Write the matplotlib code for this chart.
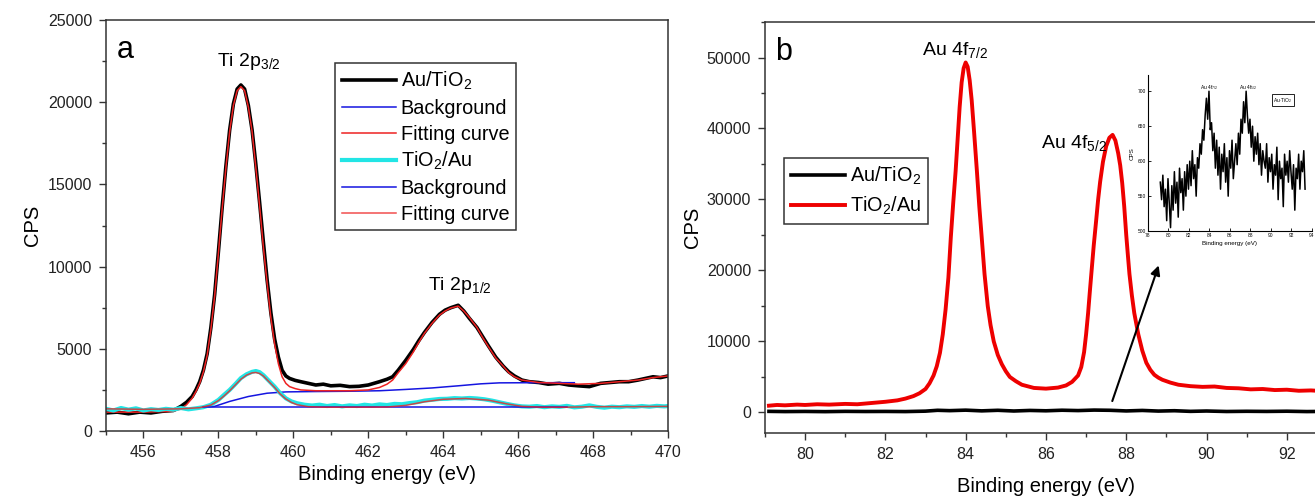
import numpy as np
import matplotlib
matplotlib.use('Agg')
import matplotlib.pyplot as plt
from matplotlib.ticker import MultipleLocator

plt.rcParams['font.family'] = ['Liberation Sans', 'DejaVu Sans']
plt.rcParams['mathtext.fontset'] = 'custom'
plt.rcParams['mathtext.rm'] = 'Liberation Sans'
plt.rcParams['mathtext.it'] = 'Liberation Sans'

# ---- panel a: Ti 2p ----
a_au_x = [455.0, 455.3, 455.6, 455.9, 456.2, 456.5, 456.8, 457.0, 457.15, 457.3, 457.4, 457.5,
          457.6, 457.7, 457.8, 457.9, 458.0, 458.1, 458.2, 458.3, 458.4, 458.5, 458.6, 458.7,
          458.8, 458.9, 459.0, 459.1, 459.2, 459.3, 459.4, 459.5, 459.6, 459.7, 459.8, 459.9,
          460.05, 460.2, 460.4, 460.6, 460.8, 461.0, 461.25, 461.5, 461.75, 462.0, 462.3, 462.5,
          462.65, 462.8, 463.0, 463.2, 463.35, 463.5, 463.7, 463.9, 464.05, 464.2, 464.4, 464.55,
          464.7, 464.9, 465.05, 465.2, 465.4, 465.6, 465.75, 465.9, 466.1, 466.3, 466.55, 466.8,
          467.1, 467.35, 467.6, 467.9, 468.2, 468.45, 468.7, 468.95, 469.2, 469.4, 469.6, 469.8,
          470.0]
a_au_y = [1100, 1150, 1050, 1150, 1100, 1200, 1250, 1500, 1750, 2100, 2500, 3000,
          3700, 4700, 6300, 8300, 10900, 13600, 16100, 18300, 19900, 20800, 21050, 20800,
          19800, 18300, 16200, 13900, 11500, 9200, 7200, 5600, 4500, 3700, 3350, 3200,
          3080, 3000, 2900, 2800, 2850, 2750, 2780, 2700, 2720, 2800, 3000, 3150,
          3300, 3700, 4300, 4950, 5500, 6000, 6600, 7100, 7350, 7500, 7650, 7300,
          6850, 6300, 5750, 5200, 4500, 3950, 3600, 3350, 3100, 3000, 2950, 2850,
          2900, 2800, 2750, 2700, 2900, 2950, 3000, 3000, 3100, 3200, 3300, 3250,
          3350]

a_au_fit_x = [455.0, 456.0, 456.8, 457.0, 457.15, 457.3, 457.4, 457.5, 457.6, 457.7, 457.8,
              457.9, 458.0, 458.1, 458.2, 458.3, 458.4, 458.5, 458.6, 458.7, 458.8, 458.9,
              459.0, 459.1, 459.2, 459.3, 459.4, 459.5, 459.6, 459.7, 459.8, 459.9, 460.05,
              460.2, 460.6, 461.5, 462.0, 462.3, 462.5, 462.65, 462.8, 463.0, 463.2, 463.35,
              463.5, 463.7, 463.9, 464.05, 464.2, 464.4, 464.55, 464.7, 464.9, 465.05, 465.2,
              465.4, 465.6, 465.75, 465.9, 466.1, 466.55, 467.1, 467.6, 468.2, 468.7, 469.2,
              469.6, 470.0]
a_au_fit_y = [1150, 1150, 1200, 1350, 1600, 2000, 2400, 2900, 3600, 4600, 6200,
              8200, 10800, 13500, 16000, 18200, 19800, 20700, 20950, 20700, 19700, 18200,
              16000, 13700, 11200, 9000, 6900, 5300, 4100, 3300, 2900, 2700, 2580,
              2500, 2450, 2450, 2500, 2650, 2850, 3100, 3550, 4100, 4800, 5400,
              5950, 6550, 7050, 7300, 7480, 7600, 7300, 6900, 6300, 5700, 5150,
              4450, 3950, 3550, 3300, 3100, 2950, 2900, 2850, 2900, 3000, 3100,
              3250, 3350]

a_au_bg_x = [457.6, 457.9, 458.3, 458.8, 459.3, 459.8, 460.5, 461.5, 462.3, 463.0, 463.7, 464.4,
             465.0, 465.5, 466.5, 467.5]
a_au_bg_y = [1440, 1500, 1800, 2100, 2300, 2380, 2400, 2420, 2450, 2530, 2620, 2750,
             2870, 2930, 2940, 2940]

a_ti_x = [455.0, 455.2, 455.4, 455.6, 455.8, 456.0, 456.2, 456.4, 456.6, 456.8, 457.0, 457.2,
          457.4, 457.6, 457.8, 458.0, 458.15, 458.3, 458.45, 458.6, 458.75, 458.9, 459.0, 459.1,
          459.2, 459.35, 459.5, 459.65, 459.8, 459.95, 460.1, 460.3, 460.5, 460.7, 460.9, 461.1,
          461.3, 461.5, 461.7, 461.9, 462.1, 462.3, 462.5, 462.7, 462.9, 463.1, 463.3, 463.5,
          463.7, 463.9, 464.1, 464.3, 464.5, 464.7, 464.9, 465.1, 465.3, 465.5, 465.7, 465.9,
          466.1, 466.3, 466.5, 466.7, 466.9, 467.1, 467.3, 467.5, 467.7, 467.9, 468.1, 468.3,
          468.5, 468.7, 468.9, 469.1, 469.3, 469.5, 469.7, 469.9, 470.0]
a_ti_y = [1350, 1250, 1400, 1300, 1380, 1250, 1330, 1280, 1350, 1300, 1400, 1320,
          1380, 1450, 1600, 1890, 2200, 2500, 2850, 3220, 3450, 3600, 3650, 3580,
          3400, 3050, 2700, 2300, 1990, 1800, 1690, 1600, 1550, 1600, 1520, 1580,
          1500, 1560, 1520, 1600, 1550, 1620, 1580, 1650, 1630, 1700, 1750, 1850,
          1900, 1950, 1960, 2000, 1980, 2010, 1980, 1930, 1850, 1750, 1650, 1560,
          1500, 1480, 1520, 1450, 1500, 1470, 1530, 1440, 1480, 1560, 1470, 1420,
          1480, 1450, 1500, 1470, 1520, 1480, 1530, 1500, 1520]

a_ti_fit_x = [455.0, 456.0, 457.0, 457.5, 457.8, 458.0, 458.15, 458.3, 458.45, 458.6, 458.75,
              458.9, 459.0, 459.1, 459.2, 459.35, 459.5, 459.65, 459.8, 459.95, 460.1, 460.4,
              460.8, 461.5, 462.5, 463.0, 463.5, 464.0, 464.6, 465.2, 465.7, 466.1, 466.6,
              467.3, 468.0, 469.0, 470.0]
a_ti_fit_y = [1350, 1320, 1350, 1420, 1580, 1850, 2130, 2450, 2800, 3150, 3400,
              3540, 3560, 3500, 3350, 3000, 2650, 2250, 1950, 1740, 1600, 1480,
              1450, 1450, 1460, 1560, 1780, 1930, 1980, 1880, 1650, 1500, 1450,
              1450, 1480, 1480, 1500]

a_ti_bg_x = [457.6, 467.3]
a_ti_bg_y = [1440, 1440]

# ---- panel b: Au 4f ----
b_ti_x = [79.1, 79.3, 79.5, 79.8, 80.0, 80.3, 80.6, 81.0, 81.3, 81.6, 82.0, 82.3, 82.5, 82.7,
          82.85, 83.0, 83.1, 83.2, 83.28, 83.36, 83.43, 83.5, 83.57, 83.63, 83.69, 83.75, 83.8,
          83.85, 83.9, 83.95, 84.0, 84.05, 84.1, 84.15, 84.21, 84.28, 84.34, 84.4, 84.47, 84.55,
          84.62, 84.7, 84.8, 84.9, 85.0, 85.1, 85.25, 85.4, 85.7, 86.0, 86.3, 86.5, 86.65, 86.8,
          86.88, 86.95, 87.0, 87.05, 87.09, 87.13, 87.19, 87.25, 87.3, 87.35, 87.42, 87.5, 87.58,
          87.66, 87.73, 87.8, 87.85, 87.9, 87.95, 88.0, 88.04, 88.08, 88.14, 88.2, 88.25, 88.3,
          88.4, 88.5, 88.6, 88.7, 88.8, 88.9, 89.1, 89.3, 89.6, 89.9, 90.2, 90.5, 90.8, 91.1,
          91.4, 91.7, 92.0, 92.3, 92.6, 92.9, 93.0]
b_ti_y = [950, 1050, 1000, 1100, 1050, 1150, 1100, 1200, 1150, 1300, 1500, 1700, 1950, 2300,
          2700, 3300, 4100, 5200, 6500, 8400, 11000, 14500, 19000, 24650, 29500, 34000, 38500,
          43000, 46500, 48500, 49300, 48700, 46800, 44000, 39500, 34000, 29000, 24650, 19500, 15000,
          12300, 10000, 8100, 6800, 5800, 5000, 4400, 3900, 3450, 3350, 3500, 3800, 4300, 5200,
          6400, 8500, 11000, 14000, 16800, 19500, 23500, 27000, 30000, 32500, 35300, 37500, 38700,
          39100, 38300, 36500, 34800, 32300, 29000, 25000, 22200, 19500, 16500, 14000, 12500, 11000,
          8700, 7000, 6000, 5300, 4900, 4600, 4200, 3900, 3700, 3600, 3650, 3450, 3400, 3250,
          3300, 3150, 3200, 3050, 3100, 3000, 3000]

b_au_x = [79.1, 79.5, 80.0, 80.5, 81.0, 81.5, 82.0, 82.5, 83.0, 83.3, 83.6, 84.0, 84.4, 84.8,
          85.2, 85.6, 86.0, 86.4, 86.8, 87.2, 87.6, 88.0, 88.4, 88.8, 89.2, 89.6, 90.0, 90.5,
          91.0, 91.5, 92.0, 92.5, 93.0]
b_au_y = [150, 120, 140, 110, 150, 130, 140, 120, 180, 300, 250, 320, 220, 300,
          200, 280, 230, 310, 260, 330, 300, 210, 280, 190, 240, 150, 200, 130,
          160, 140, 170, 120, 150]

# inset (Au/TiO2 zoom), sampled every 0.125 eV from 79.2
inset_x = np.arange(114) * 0.125 + 79.2
inset_y = [570, 545, 580, 535, 560, 515, 575, 540, 505, 565, 530,
           585, 540, 570, 520, 590, 555, 575, 530, 585, 550, 595, 560,
           600, 565, 615, 575, 595, 550, 605,
           590, 625, 610, 645, 630, 665,
           690, 660, 700, 645,
           655, 615, 640, 590, 630, 580, 620,
           560, 610, 585, 625, 570, 605, 550, 615, 590, 630, 575, 600,
           625, 595, 640, 610, 660, 640,
           685, 655, 700, 665,
           640, 660, 620, 650, 600, 635,
           610, 640, 595, 625, 580, 615, 600, 590, 625, 570, 605, 585,
           610, 560, 595, 580, 620, 545, 600, 575, 590, 535, 610, 580,
           600, 570, 615, 585, 560, 595, 530, 590, 575, 610, 560, 600, 585, 615, 560]

fig = plt.figure(figsize=(13.15, 4.96), dpi=100)
ax1 = fig.add_axes([0.0806, 0.131, 0.4274, 0.8286])
ax2 = fig.add_axes([0.5817, 0.127, 0.4274, 0.8286])


def style(ax):
    for s in ax.spines.values():
        s.set_linewidth(1.1)
        s.set_color('#333333')
    ax.tick_params(which='major', direction='out', length=5, width=1, labelsize=11.5, pad=5,
                   colors='#333333', labelcolor='#222222', top=False, right=False)
    ax.tick_params(which='minor', direction='out', length=3, width=1, colors='#333333',
                   top=False, right=False)


# panel a
ax1.plot(a_au_x, a_au_y, color='black', lw=2.6, label='Au/TiO$_2$')
ax1.plot(a_au_bg_x, a_au_bg_y, color='#1515e0', lw=1.1, label='Background')
ax1.plot(a_au_fit_x, a_au_fit_y, color='#ee2222', lw=1.1, label='Fitting curve')
ax1.plot(a_ti_x, a_ti_y, color='#22e5e5', lw=3, label='TiO$_2$/Au')
ax1.plot(a_ti_bg_x, a_ti_bg_y, color='#1515e0', lw=1.1, label='Background')
ax1.plot(a_ti_fit_x, a_ti_fit_y, color='#ee2222', lw=1.1, alpha=0.8, label='Fitting curve')
ax1.set_xlim(455, 470)
ax1.set_ylim(0, 25000)
ax1.xaxis.set_major_locator(MultipleLocator(2))
ax1.xaxis.set_minor_locator(MultipleLocator(1))
ax1.yaxis.set_major_locator(MultipleLocator(5000))
ax1.yaxis.set_minor_locator(MultipleLocator(2500))
style(ax1)
ax1.set_xlabel('Binding energy (eV)', fontsize=14.5, labelpad=4)
ax1.set_ylabel('CPS', fontsize=14.5, labelpad=4)
ax1.text(0.02, 0.9075, 'a', transform=ax1.transAxes, fontsize=22, va='baseline')
ax1.text(457.96, 22200, 'Ti 2p$_{3/2}$', fontsize=14, va='baseline')
ax1.text(463.59, 8580, 'Ti 2p$_{1/2}$', fontsize=14, va='baseline')
leg1 = ax1.legend(loc='upper left', bbox_to_anchor=(0.4075, 0.895), borderaxespad=0,
                  fontsize=14.3, handlelength=2.7, handletextpad=0.25, labelspacing=0.33,
                  borderpad=0.35, fancybox=False, framealpha=1, edgecolor='#333333')
leg1.get_frame().set_linewidth(1.1)

# panel b
ax2.plot(b_au_x, b_au_y, color='black', lw=2.6, label='Au/TiO$_2$')
ax2.plot(b_ti_x, b_ti_y, color='#ee0000', lw=2.8, label='TiO$_2$/Au')
ax2.set_xlim(79, 93)
ax2.set_ylim(-2900, 55000)
ax2.xaxis.set_major_locator(MultipleLocator(2))
ax2.xaxis.set_minor_locator(MultipleLocator(1))
ax2.yaxis.set_major_locator(MultipleLocator(10000))
ax2.yaxis.set_minor_locator(MultipleLocator(5000))
style(ax2)
ax2.set_xlabel('Binding energy (eV)', fontsize=14.5, labelpad=11)
ax2.set_ylabel('CPS', fontsize=14.5, labelpad=3)
ax2.text(0.018, 0.9075, 'b', transform=ax2.transAxes, fontsize=22, va='baseline')
ax2.text(82.9, 50380, 'Au 4f$_{7/2}$', fontsize=14, va='baseline')
ax2.text(85.88, 37280, 'Au 4f$_{5/2}$', fontsize=14, va='baseline')
ax2.annotate('', xy=(88.83, 21080), xytext=(87.63, 1230),
             arrowprops=dict(arrowstyle='-|>', color='black', lw=1.5, mutation_scale=14))
leg2 = ax2.legend(loc='upper left', bbox_to_anchor=(0.034, 0.669), borderaxespad=0,
                  fontsize=14.3, handlelength=2.7, handletextpad=0.25, labelspacing=0.36,
                  borderpad=0.35, fancybox=False, framealpha=1, edgecolor='#333333')
leg2.get_frame().set_linewidth(1.1)

# inset
axi = fig.add_axes([0.873, 0.534, 0.1247, 0.3145])
axi.plot(inset_x, inset_y, color='black', lw=1.1)
axi.set_xlim(78, 94)
axi.set_ylim(500, 723)
axi.xaxis.set_major_locator(MultipleLocator(2))
axi.yaxis.set_major_locator(MultipleLocator(50))
axi.spines['top'].set_visible(False)
axi.spines['right'].set_visible(False)
axi.tick_params(direction='in', length=2, width=0.6, labelsize=3.5, pad=1.5)
axi.set_xlabel('Binding energy (eV)', fontsize=4.5, labelpad=2)
axi.set_ylabel('CPS', fontsize=4.5, labelpad=2)
axi.text(83.1, 703, 'Au 4f$_{7/2}$', fontsize=3.5)
axi.text(86.9, 703, 'Au 4f$_{5/2}$', fontsize=3.5)
axi.text(90.2, 685, 'Au-TiO$_2$', fontsize=3.5,
         bbox=dict(boxstyle='square,pad=0.3', fc='white', ec='black', lw=0.6))

fig.savefig('out.png', dpi=100)
